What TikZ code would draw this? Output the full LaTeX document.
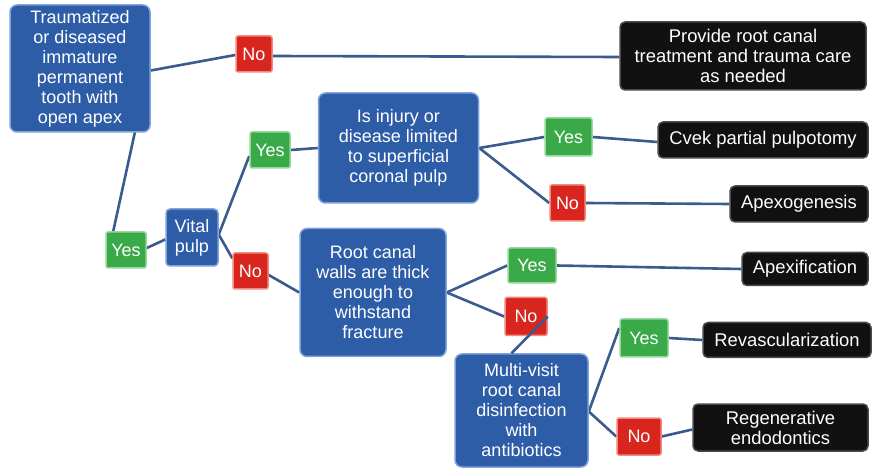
\documentclass[tikz,border=0pt]{standalone}
\usepackage{fontspec}
\setmainfont{Liberation Sans}
\usetikzlibrary{backgrounds}
\definecolor{bxblue}{HTML}{2E5DA8}
\definecolor{bxblueedge}{HTML}{7FA2DA}
\definecolor{bxred}{HTML}{D8261E}
\definecolor{bxrededge}{HTML}{F08A80}
\definecolor{bxgreen}{HTML}{3AAA48}
\definecolor{bxgreenedge}{HTML}{96D99A}
\definecolor{bxblack}{HTML}{111111}
\definecolor{bxblackedge}{HTML}{4A4A4A}
\definecolor{conn}{HTML}{3B5B8F}
\begin{document}
\begin{tikzpicture}[x=1pt,y=-1pt,
  base/.style={inner sep=0pt, align=center, text=white,
    font=\fontsize{18}{20}\selectfont, line width=1.5pt},
  bluebox/.style={base, fill=bxblue, draw=bxblueedge, rounded corners=7pt},
  blackbox/.style={base, fill=bxblack, draw=bxblackedge, rounded corners=5pt,
    font=\fontsize{18.4}{20}\selectfont},
  yesbox/.style={base, fill=bxgreen, draw=bxgreenedge, rounded corners=2pt},
  nobox/.style={base, fill=bxred, draw=bxrededge, rounded corners=2pt},
  link/.style={draw=conn, line width=2.6pt}
]
\useasboundingbox (0,0) rectangle (873,470);
\begin{scope}[on background layer]
\fill[white] (0,0) rectangle (873,470);
\end{scope}

% nodes
\node[bluebox, minimum width=140pt, minimum height=127pt] (root) at (80,68.5)
  {Traumatized\\or diseased\\immature\\permanent\\tooth with\\open apex};
\node[nobox, minimum width=36pt, minimum height=36pt] (no1) at (254,54) {No};
\node[blackbox, minimum width=246pt, minimum height=68pt] (rct) at (743,56)
  {Provide root canal\\treatment and trauma care\\as needed};
\node[yesbox, minimum width=40pt, minimum height=36pt] (yes1) at (126,250) {Yes};
\node[bluebox, rounded corners=4pt, minimum width=52pt, minimum height=57pt] (vital) at (192,237.5) {Vital\\pulp};
\node[yesbox, minimum width=40pt, minimum height=36pt] (yes2) at (270,150) {Yes};
\node[nobox, minimum width=35pt, minimum height=36pt] (no2) at (250.5,271) {No};
\node[bluebox, minimum width=160pt, minimum height=110pt] (injury) at (398.5,148)
  {Is injury or\\disease limited\\to superficial\\coronal pulp};
\node[yesbox, minimum width=47pt, minimum height=38pt] (yes3) at (568.5,137) {Yes};
\node[nobox, minimum width=35pt, minimum height=36pt] (no3) at (567.5,203) {No};
\node[blackbox, minimum width=210pt, minimum height=36pt] (cvek) at (763,140) {Cvek partial pulpotomy};
\node[blackbox, minimum width=138pt, minimum height=36pt] (apexo) at (799,204) {Apexogenesis};
\node[bluebox, minimum width=146pt, minimum height=128pt] (walls) at (373,292.5)
  {Root canal\\walls are thick\\enough to\\withstand\\fracture};
\node[yesbox, minimum width=48pt, minimum height=35pt] (yes4) at (532,265.5) {Yes};
\node[nobox, minimum width=42pt, minimum height=38pt] (no4) at (526,316.5) {No};
\node[blackbox, minimum width=126pt, minimum height=33pt] (apexif) at (805,269) {Apexification};
\node[bluebox, minimum width=133pt, minimum height=113pt] (multi) at (521.5,410.5)
  {Multi-visit\\root canal\\disinfection\\with\\antibiotics};
\node[yesbox, minimum width=48pt, minimum height=38pt] (yes5) at (644,338) {Yes};
\node[blackbox, minimum width=168pt, minimum height=35pt] (revasc) at (787,340) {Revascularization};
\node[nobox, minimum width=44pt, minimum height=37pt] (no5) at (639,436.5) {No};
\node[blackbox, minimum width=175pt, minimum height=47pt] (regen) at (780.5,427.5) {Regenerative\\endodontics};

% connectors (behind nodes)
\begin{scope}[on background layer]
\draw[link] ([yshift=-2pt]root.east) -- ([yshift=-1pt]no1.west);
\draw[link] ([yshift=-2pt]no1.east) -- ([yshift=-1pt]rct.west);
\draw[link] ([xshift=55pt,yshift=1pt]root.south) -- ([xshift=-13pt,yshift=-1pt]yes1.north);
\draw[link] ([yshift=2pt]yes1.east) -- ([yshift=-2pt]vital.west);
\draw[link] ([yshift=3pt]vital.east) -- ([yshift=-6pt]yes2.west);
\draw[link] ([yshift=3pt]vital.east) -- ([yshift=-6pt]no2.north west);
\draw[link] ([yshift=-4pt]no2.east) -- (walls.west);
\draw[link] (yes2.east) -- (injury.west);
\draw[link] (injury.east) -- (yes3.west);
\draw[link] (injury.east) -- (no3.west);
\draw[link] (yes3.east) -- ([yshift=-2pt]cvek.west);
\draw[link] (no3.east) -- (apexo.west);
\draw[link] (walls.east) -- (yes4.west);
\draw[link] (walls.east) -- (no4.west);
\draw[link] (yes4.east) -- (apexif.west);
\draw[link] ([yshift=-1pt]multi.east) -- ([yshift=10pt]yes5.west);
\draw[link] ([yshift=-1pt]multi.east) -- (no5.west);
\draw[link] (yes5.east) -- (revasc.west);
\draw[link] (no5.east) -- ([yshift=-2pt]regen.west);
\end{scope}
% this connector runs over the No box
\draw[link] ([xshift=-10pt]multi.north) -- (no4.east);
\end{tikzpicture}
\end{document}
